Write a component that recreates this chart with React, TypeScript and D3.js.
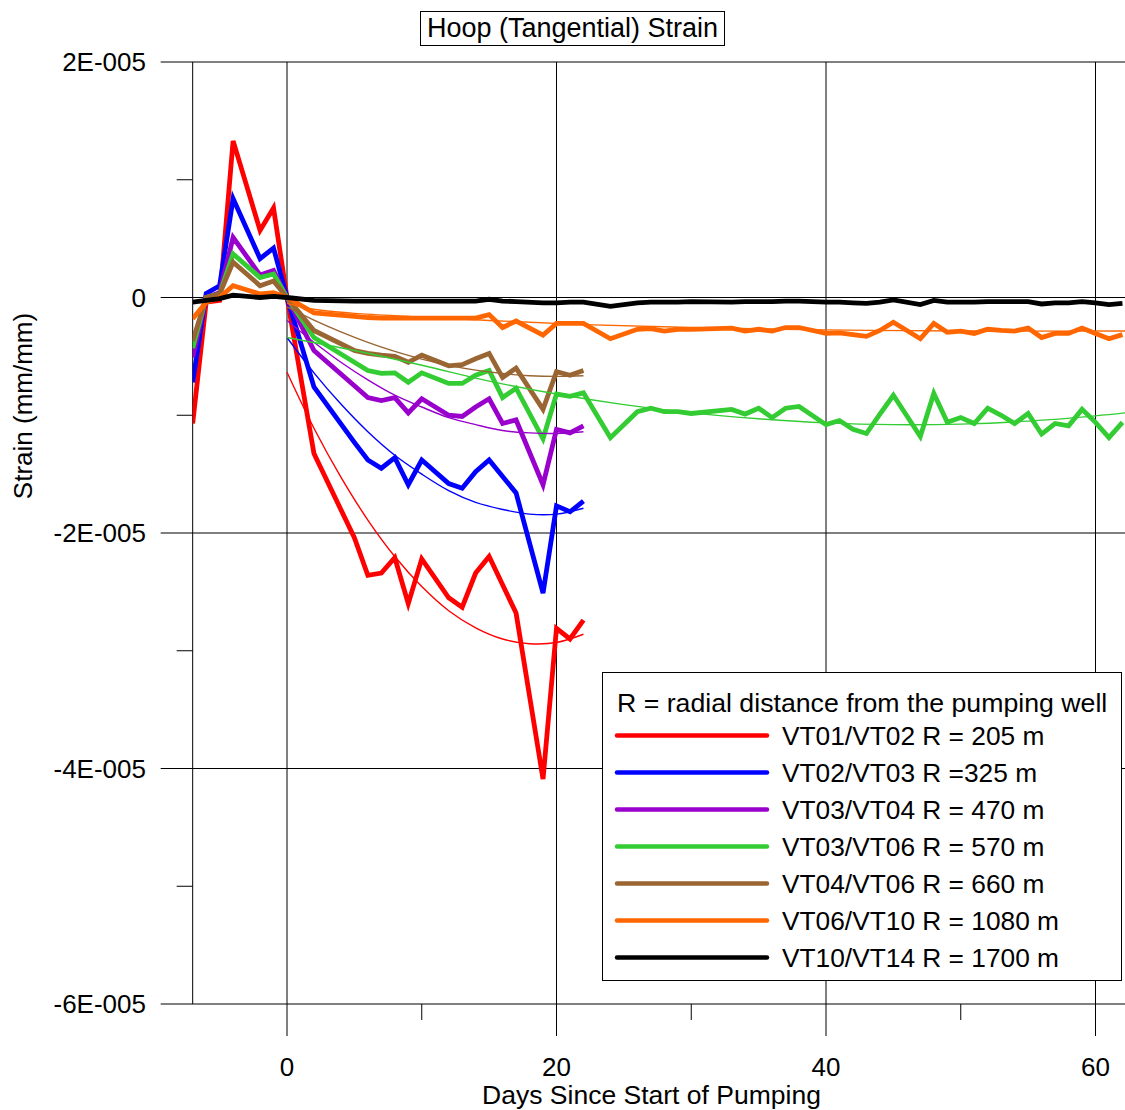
import React from "react";
import * as d3 from "d3";

// Strain values are stored in micro-strain (1e-6 mm/mm)
const MICRO = 1e-6;

const DAYS_EARLY = [-7, -6, -5, -4, -2, -1, 0, 2, 5, 6, 7, 8, 9, 10, 12, 13, 14, 15, 16, 17, 19, 20, 21, 22];
const DAYS_TAIL = [24, 26, 27, 28, 29, 30, 33, 34, 35, 36, 37, 38, 40, 41, 42, 43, 44, 45, 47, 48, 49, 50, 51, 52, 53, 54, 55, 56, 57, 58, 59, 60, 61, 62];
const DAYS_LONG = DAYS_EARLY.concat(DAYS_TAIL);

const VT01_VT02 = [-10.7, -0.4, -0.25, 13.3, 5.7, 7.6, 0, -13.25, -20.4, -23.6, -23.4, -22.1, -26.0, -22.2, -25.5, -26.3, -23.4, -22.0, -24.4, -26.8, -40.9, -28.1, -29.0, -27.4];
const VT02_VT03 = [-7.2, 0.34, 1.0, 8.4, 3.3, 4.2, 0, -7.6, -12.3, -13.8, -14.5, -13.6, -15.9, -13.8, -15.8, -16.2, -14.8, -13.8, -15.2, -16.6, -25.1, -17.7, -18.2, -17.3];
const VT03_VT04 = [-5.1, 0, 0.4, 5.1, 1.9, 2.3, 0, -4.5, -7.5, -8.5, -8.75, -8.5, -9.8, -8.6, -10.0, -10.1, -9.3, -8.6, -10.7, -10.4, -15.9, -11.2, -11.5, -10.9];
const VT03_VT06 = [-4.3, 0, 0.3, 3.7, 1.7, 2.0, 0, -3.4, -5.5, -6.2, -6.45, -6.4, -7.2, -6.4, -7.3, -7.3, -6.6, -6.2, -8.5, -7.7, -12.0, -8.2, -8.4, -8.1,
  -11.9, -9.7, -9.4, -9.7, -9.7, -9.85, -9.5, -9.9, -9.4, -10.2, -9.4, -9.25, -10.8, -10.45, -11.2, -11.55, -9.9, -8.3, -11.8, -8.15, -10.6, -10.2, -10.7, -9.4, -10.0, -10.7, -9.85, -11.6, -10.7, -10.9, -9.5, -10.6, -11.9, -10.6];
const VT04_VT06 = [-3.7, 0, 0.3, 3.0, 1.0, 1.4, 0, -2.8, -4.5, -4.75, -4.9, -5.0, -5.5, -4.9, -5.8, -5.7, -5.2, -4.75, -6.8, -6.0, -9.5, -6.3, -6.6, -6.2];
const VT06_VT10 = [-1.8, -0.4, 0, 1.0, 0.3, 0.4, 0, -1.3, -1.6, -1.7, -1.75, -1.75, -1.75, -1.75, -1.75, -1.75, -1.75, -1.45, -2.55, -2.0, -3.2, -2.2, -2.2, -2.2,
  -3.5, -2.7, -2.65, -2.85, -2.7, -2.7, -2.6, -2.85, -2.7, -2.85, -2.55, -2.55, -3.05, -3.0, -3.15, -3.3, -2.8, -2.1, -3.5, -2.2, -2.95, -2.85, -3.05, -2.7, -2.8, -2.85, -2.6, -3.4, -3.05, -3.05, -2.6, -3.05, -3.5, -3.15];
const VT10_VT14 = [-0.4, -0.25, -0.1, 0.2, 0, 0.1, 0, -0.25, -0.3, -0.3, -0.3, -0.3, -0.3, -0.3, -0.3, -0.3, -0.3, -0.15, -0.3, -0.35, -0.45, -0.45, -0.4, -0.4,
  -0.75, -0.45, -0.4, -0.4, -0.4, -0.35, -0.4, -0.35, -0.35, -0.35, -0.3, -0.3, -0.4, -0.4, -0.45, -0.5, -0.4, -0.2, -0.6, -0.25, -0.4, -0.4, -0.4, -0.35, -0.35, -0.35, -0.35, -0.55, -0.45, -0.45, -0.35, -0.45, -0.6, -0.5];

// Trend curves through the post-pumping records
const FIT_DAYS_SHORT = [0, 2, 4, 6, 8, 10, 12, 14, 16, 18, 20, 22];
const FIT_VT01_VT02 = [-6.35, -11.1, -15.25, -18.9, -22.0, -24.55, -26.6, -28.05, -29.0, -29.4, -29.3, -28.6];
const FIT_VT02_VT03 = [-3.4, -6.4, -9.05, -11.4, -13.4, -15.0, -16.4, -17.4, -18.0, -18.4, -18.4, -17.9];
const FIT_VT03_VT04 = [-1.95, -3.8, -5.5, -7.0, -8.3, -9.3, -10.2, -10.8, -11.3, -11.5, -11.55, -11.4];
const FIT_VT04_VT06 = [-0.8, -1.92, -2.92, -3.81, -4.58, -5.23, -5.76, -6.17, -6.46, -6.64, -6.7, -6.64];
const FIT_DAYS_GREEN = [0, 5, 10, 15, 20, 25, 30, 35, 40, 45, 50, 55, 60, 63];
const FIT_VT03_VT06 = [-3.4, -4.5, -5.75, -7.1, -8.2, -9.1, -9.8, -10.3, -10.65, -10.8, -10.75, -10.5, -10.05, -9.7];
const FIT_DAYS_ORANGE = [0, 2, 5, 10, 15, 22, 30, 40, 50, 63];
const FIT_VT06_VT10 = [-0.5, -1.0, -1.35, -1.65, -1.95, -2.3, -2.55, -2.75, -2.85, -2.85];

const SERIES = [
  { label: "VT01/VT02 R = 205 m", color: "#ff0000", days: DAYS_EARLY, values: VT01_VT02, fitDays: FIT_DAYS_SHORT, fit: FIT_VT01_VT02 },
  { label: "VT02/VT03 R =325 m", color: "#0000ff", days: DAYS_EARLY, values: VT02_VT03, fitDays: FIT_DAYS_SHORT, fit: FIT_VT02_VT03 },
  { label: "VT03/VT04 R = 470 m", color: "#9900cc", days: DAYS_EARLY, values: VT03_VT04, fitDays: FIT_DAYS_SHORT, fit: FIT_VT03_VT04 },
  { label: "VT03/VT06 R = 570 m", color: "#33cc33", days: DAYS_LONG, values: VT03_VT06, fitDays: FIT_DAYS_GREEN, fit: FIT_VT03_VT06 },
  { label: "VT04/VT06 R = 660 m", color: "#996633", days: DAYS_EARLY, values: VT04_VT06, fitDays: FIT_DAYS_SHORT, fit: FIT_VT04_VT06 },
  { label: "VT06/VT10 R = 1080 m", color: "#ff6600", days: DAYS_LONG, values: VT06_VT10, fitDays: FIT_DAYS_ORANGE, fit: FIT_VT06_VT10 },
  { label: "VT10/VT14 R = 1700 m", color: "#000000", days: DAYS_LONG, values: VT10_VT14, fitDays: null, fit: null },
];

const X_MAJOR = [0, 20, 40, 60];
const X_MINOR = [10, 30, 50];
const Y_MAJOR = [2e-5, 0, -2e-5, -4e-5, -6e-5];
const Y_MINOR = [1e-5, -1e-5, -3e-5, -5e-5];

const W = 1125;
const H = 1110;
const FONT = "Arial, 'Liberation Sans', sans-serif";

const x = d3.scaleLinear().domain([0, 60]).range([287, 1095.5]);
const y = d3.scaleLinear().domain([-6e-5, 2e-5]).range([1004, 62]);

function fmtStrain(v: number): string {
  if (v === 0) return "0";
  const exp = Math.floor(Math.log10(Math.abs(v)) + 1e-9);
  const mant = Math.round(v / Math.pow(10, exp));
  const sign = exp < 0 ? "-" : "+";
  return `${mant}E${sign}${String(Math.abs(exp)).padStart(3, "0")}`;
}

export default function App() {
  const left = x(-7);
  const right = x(64);
  const top = y(2e-5);
  const bottom = y(-6e-5);

  const line = d3
    .line<[number, number]>()
    .x((d) => x(d[0]))
    .y((d) => y(d[1] * MICRO));
  const smooth = d3
    .line<[number, number]>()
    .x((d) => x(d[0]))
    .y((d) => y(d[1] * MICRO))
    .curve(d3.curveCatmullRom.alpha(0.5));

  const legendX = 602;
  const legendY = 672;
  const legendW = 519;
  const legendH = 308;

  return (
    <svg
      width={W}
      height={H}
      style={{ position: "absolute", left: 0, top: 0, background: "#fff", fontFamily: FONT }}
    >
      <defs>
        <clipPath id="plotClip">
          <rect x={left} y={top - 10} width={right - left} height={bottom - top + 10} />
        </clipPath>
      </defs>
      <rect x={0} y={0} width={W} height={H} fill="#fff" />

      {/* horizontal grid lines at the major strain ticks */}
      {Y_MAJOR.map((v) => (
        <line key={"hy" + v} x1={left - 32} x2={W} y1={y(v)} y2={y(v)} stroke="#000" strokeWidth={1} />
      ))}
      {/* minor strain ticks */}
      {Y_MINOR.map((v) => (
        <line key={"my" + v} x1={left - 16} x2={left} y1={y(v)} y2={y(v)} stroke="#000" strokeWidth={1} />
      ))}
      {/* left axis */}
      <line x1={left} x2={left} y1={top} y2={bottom} stroke="#000" strokeWidth={1} />
      {/* vertical grid lines extended into major ticks */}
      {X_MAJOR.map((d) => (
        <line key={"vx" + d} x1={x(d)} x2={x(d)} y1={top} y2={bottom + 32} stroke="#000" strokeWidth={1} />
      ))}
      {X_MINOR.map((d) => (
        <line key={"mx" + d} x1={x(d)} x2={x(d)} y1={bottom} y2={bottom + 16} stroke="#000" strokeWidth={1} />
      ))}

      {/* tick labels */}
      {Y_MAJOR.map((v) => (
        <text key={"ty" + v} x={146} y={y(v)} dy="0.35em" textAnchor="end" fontSize={26} fill="#000">
          {fmtStrain(v)}
        </text>
      ))}
      {X_MAJOR.map((d) => (
        <text key={"tx" + d} x={x(d)} y={1076} textAnchor="middle" fontSize={26} fill="#000">
          {d}
        </text>
      ))}

      {/* axis titles */}
      <text x={651.5} y={1104} textAnchor="middle" fontSize={26.5} fill="#000">
        Days Since Start of Pumping
      </text>
      <text transform={`translate(32, 406) rotate(-90)`} textAnchor="middle" fontSize={26} fill="#000">
        Strain (mm/mm)
      </text>

      {/* data */}
      <g clipPath="url(#plotClip)">
        {SERIES.map((s) => (
          <path
            key={s.label}
            d={line(s.days.map((d, i) => [d, s.values[i]] as [number, number])) || ""}
            fill="none"
            stroke={s.color}
            strokeWidth={4.8}
            strokeLinejoin="miter"
            strokeMiterlimit={4}
          />
        ))}
        {SERIES.filter((s) => s.fit).map((s) => (
          <path
            key={"fit" + s.label}
            d={smooth((s.fitDays as number[]).map((d, i) => [d, (s.fit as number[])[i]] as [number, number])) || ""}
            fill="none"
            stroke={s.color}
            strokeWidth={1.4}
          />
        ))}
      </g>

      {/* title */}
      <rect x={420.5} y={11.5} width={304} height={34} fill="#fff" stroke="#000" strokeWidth={1} />
      <text x={572.5} y={37} textAnchor="middle" fontSize={27} fill="#000">
        Hoop (Tangential) Strain
      </text>

      {/* legend */}
      <g>
        <rect x={legendX + 0.5} y={legendY + 0.5} width={legendW} height={legendH} fill="#fff" stroke="#000" strokeWidth={1} />
        <text x={617} y={712} fontSize={26.7} fill="#000">
          R = radial distance from the pumping well
        </text>
        {SERIES.map((s, i) => {
          const ly = 735.5 + i * 37;
          return (
            <g key={"lg" + s.label}>
              <line x1={617} x2={767} y1={ly} y2={ly} stroke={s.color} strokeWidth={4.5} strokeLinecap="round" />
              <text x={782} y={ly + 9.5} fontSize={26.3} fill="#000">
                {s.label}
              </text>
            </g>
          );
        })}
      </g>
    </svg>
  );
}
